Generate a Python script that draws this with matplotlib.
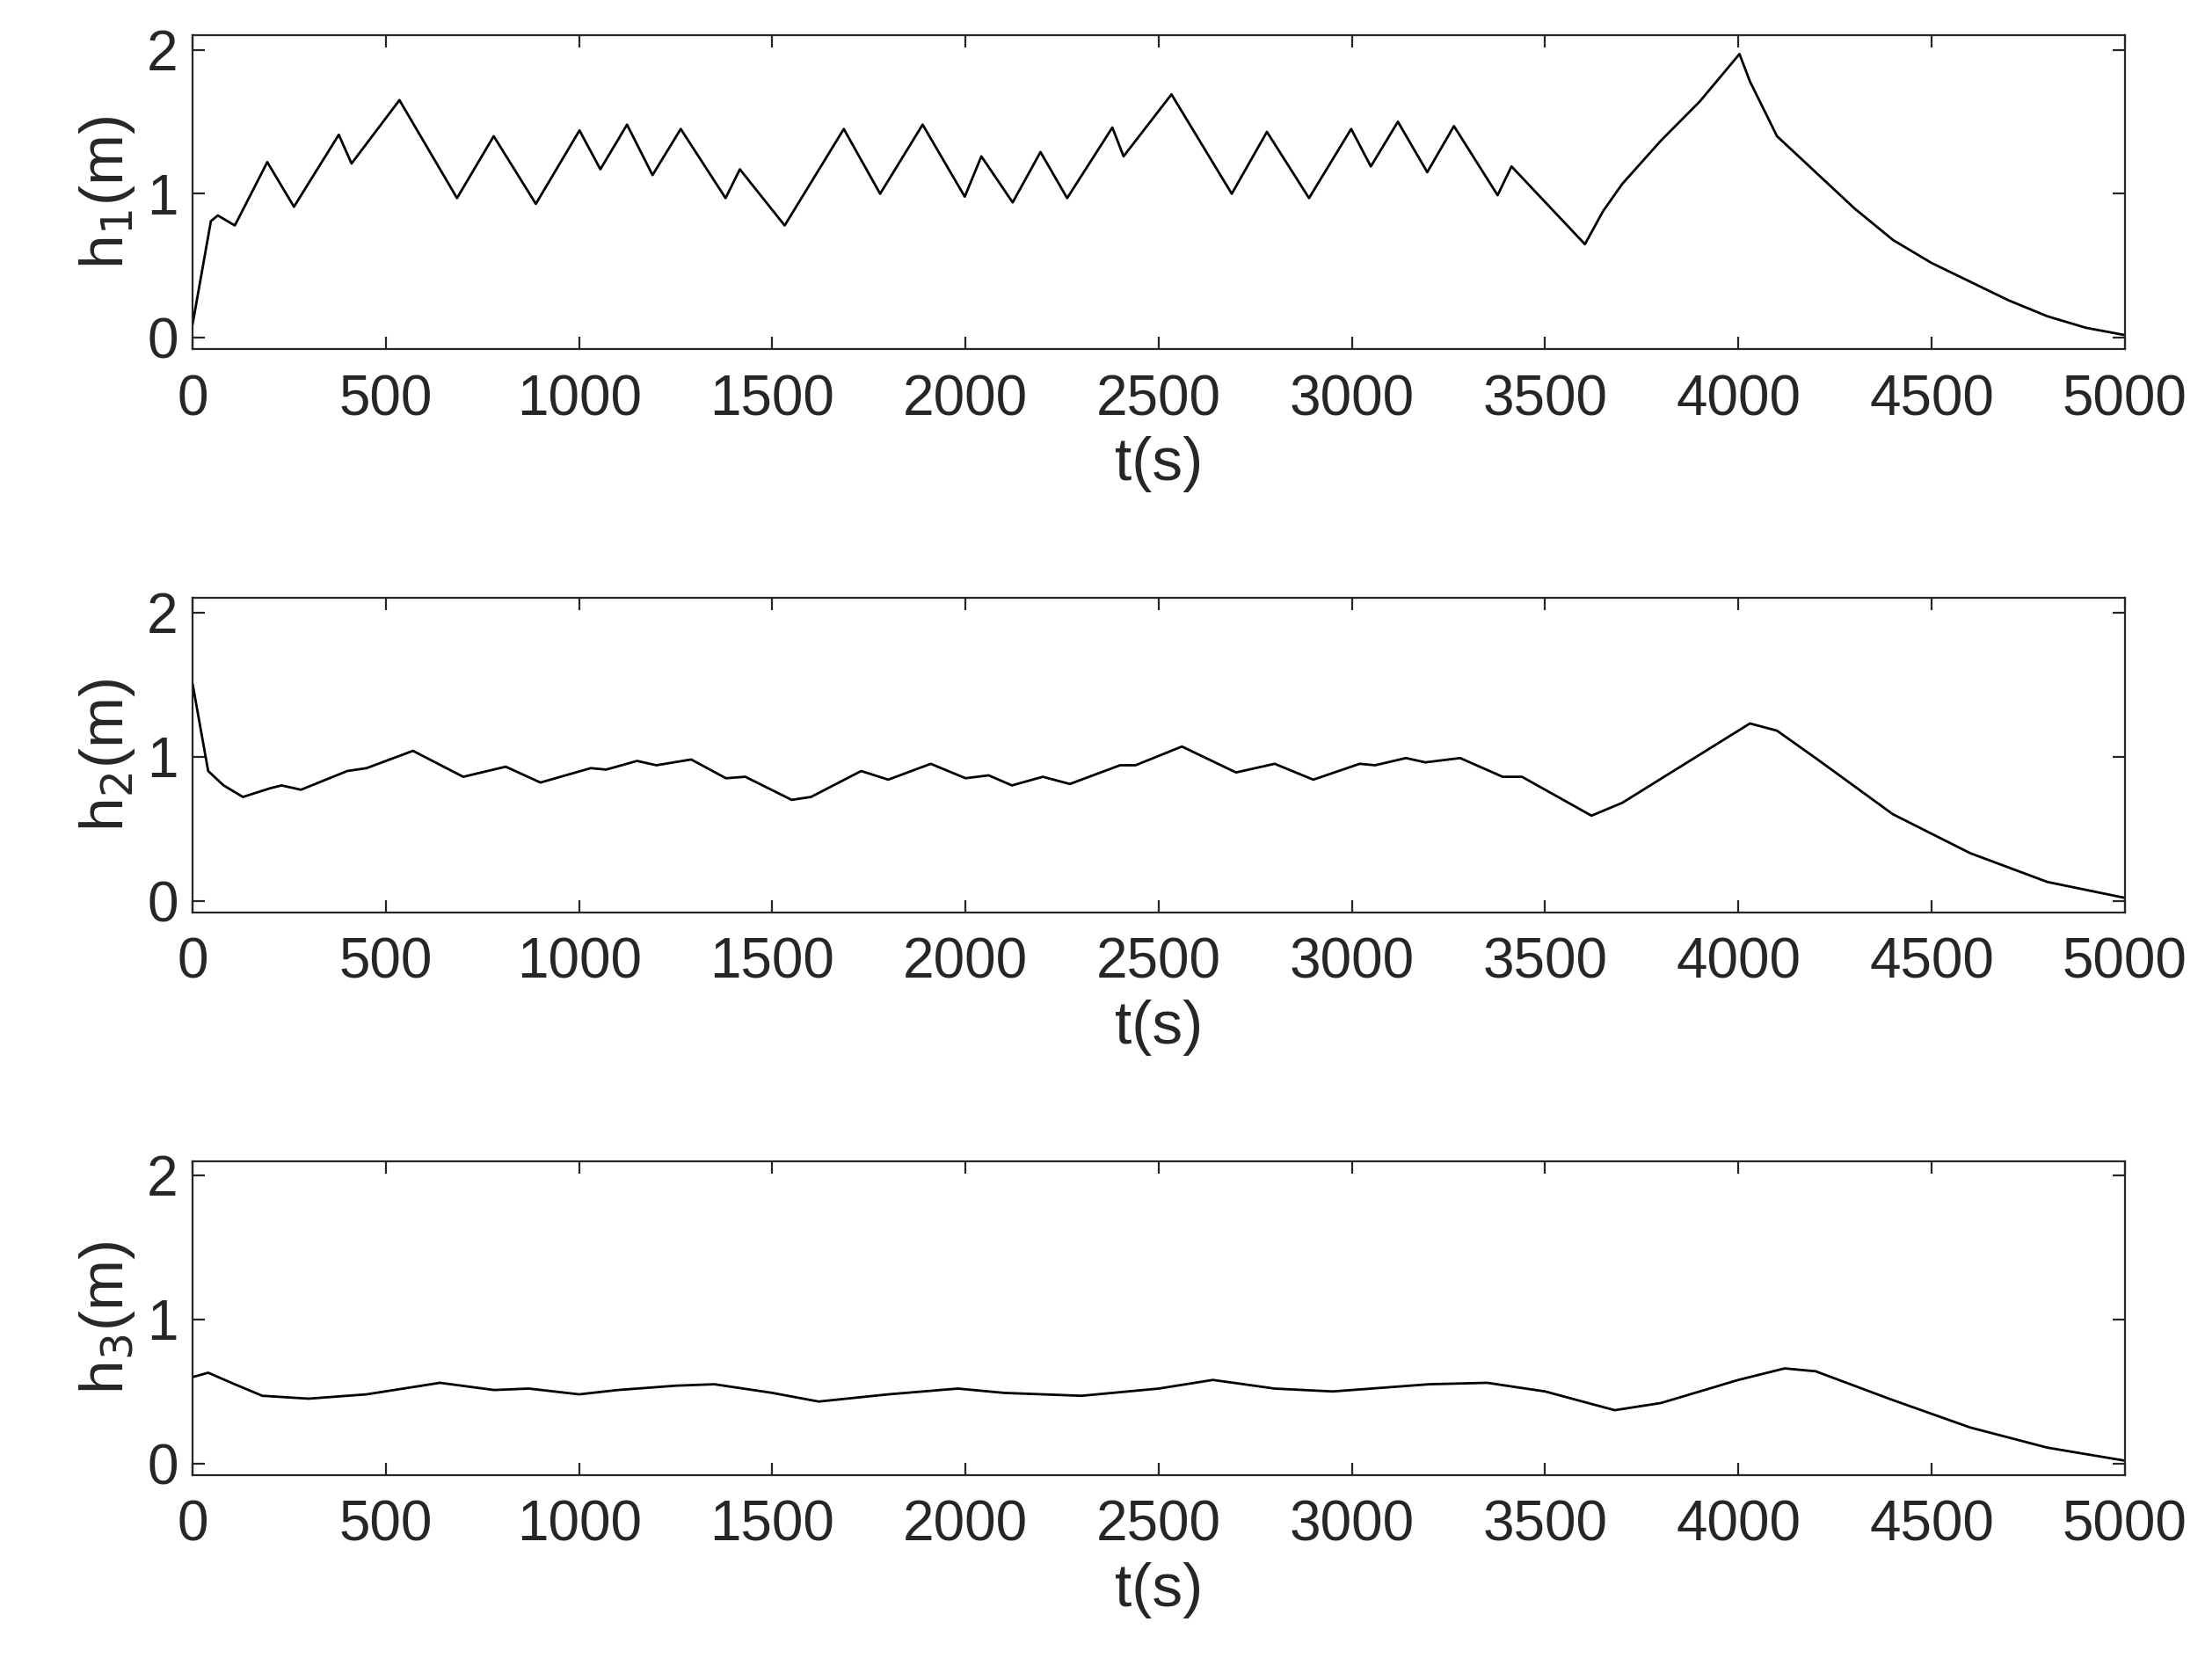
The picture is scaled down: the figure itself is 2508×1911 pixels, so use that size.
import matplotlib
matplotlib.use("Agg")
import matplotlib.pyplot as plt

t1 = [0,47,65,109,193,262,378,411,535,684,779,888,1001,1055,1124,1190,1263,1379,1416,1532,1685,1779,1889,1998,2041,2122,2194,2263,2380,2409,2533,2689,2780,2889,2998,3049,3119,3195,3264,3377,3413,3603,3650,3700,3800,3900,4003,4030,4100,4200,4300,4400,4500,4600,4700,4800,4900,5000]
h1 = [0.1,0.81,0.85,0.78,1.22,0.91,1.41,1.21,1.65,0.97,1.40,0.93,1.44,1.17,1.48,1.13,1.45,0.97,1.17,0.78,1.45,1.0,1.48,0.98,1.26,0.94,1.29,0.97,1.46,1.26,1.69,1.0,1.43,0.97,1.45,1.19,1.50,1.15,1.47,0.99,1.19,0.65,0.88,1.07,1.37,1.64,1.97,1.78,1.40,1.15,0.90,0.68,0.52,0.39,0.26,0.15,0.07,0.02]
t2 = [0,40,80,130,200,230,280,400,450,570,700,810,900,1030,1070,1150,1200,1290,1380,1430,1550,1600,1730,1800,1910,2000,2060,2120,2200,2270,2400,2440,2560,2700,2800,2900,3020,3060,3140,3190,3280,3390,3440,3620,3700,3850,4030,4100,4200,4400,4600,4800,5000]
h2 = [1.5,0.9,0.8,0.72,0.78,0.8,0.77,0.9,0.92,1.04,0.86,0.93,0.82,0.92,0.91,0.97,0.94,0.98,0.85,0.86,0.7,0.72,0.9,0.84,0.95,0.85,0.87,0.80,0.86,0.81,0.94,0.94,1.07,0.89,0.95,0.84,0.95,0.94,0.99,0.96,0.99,0.86,0.86,0.59,0.68,0.93,1.23,1.18,0.99,0.6,0.33,0.13,0.02]
t3 = [0,40,100,180,300,450,640,780,870,1000,1100,1250,1350,1500,1620,1800,1980,2100,2300,2500,2640,2800,2950,3100,3200,3350,3500,3680,3800,4000,4120,4200,4400,4600,4800,5000]
h3 = [0.6,0.63,0.56,0.47,0.45,0.48,0.56,0.51,0.52,0.48,0.51,0.54,0.55,0.49,0.43,0.48,0.52,0.49,0.47,0.52,0.58,0.52,0.50,0.53,0.55,0.56,0.50,0.37,0.42,0.58,0.66,0.64,0.44,0.25,0.11,0.02]

plt.rcParams['font.family'] = ['Liberation Sans', 'DejaVu Sans']
fig = plt.figure(figsize=(12.54, 9.555), dpi=200)
rows = [(0.792, 0.187), (0.457, 0.187), (0.122, 0.187)]
data = [(t1, h1, r'h$_1$(m)'), (t2, h2, r'h$_2$(m)'), (t3, h3, r'h$_3$(m)')]
for (b, h), (t, y, lab) in zip(rows, data):
    ax = fig.add_axes([0.0874, b, 0.8762, h])
    ax.plot(t, y, color='black', lw=1.0)
    ax.set_xlim(0, 5000)
    ax.set_ylim(-0.08, 2.1)
    ax.set_xticks(range(0, 5001, 500))
    ax.set_yticks([0, 1, 2])
    ax.tick_params(direction='in', top=True, right=True, labelsize=23, length=5, pad=10, colors='#262626')
    ax.tick_params(axis='y', pad=6)
    ax.set_xlabel('t(s)', fontsize=25, color='#262626', labelpad=4)
    ax.set_ylabel(lab, fontsize=25, color='#262626', labelpad=4)
    for s in ax.spines.values():
        s.set_linewidth(0.8)
        s.set_color('#262626')
fig.savefig('out.png', dpi=200)
